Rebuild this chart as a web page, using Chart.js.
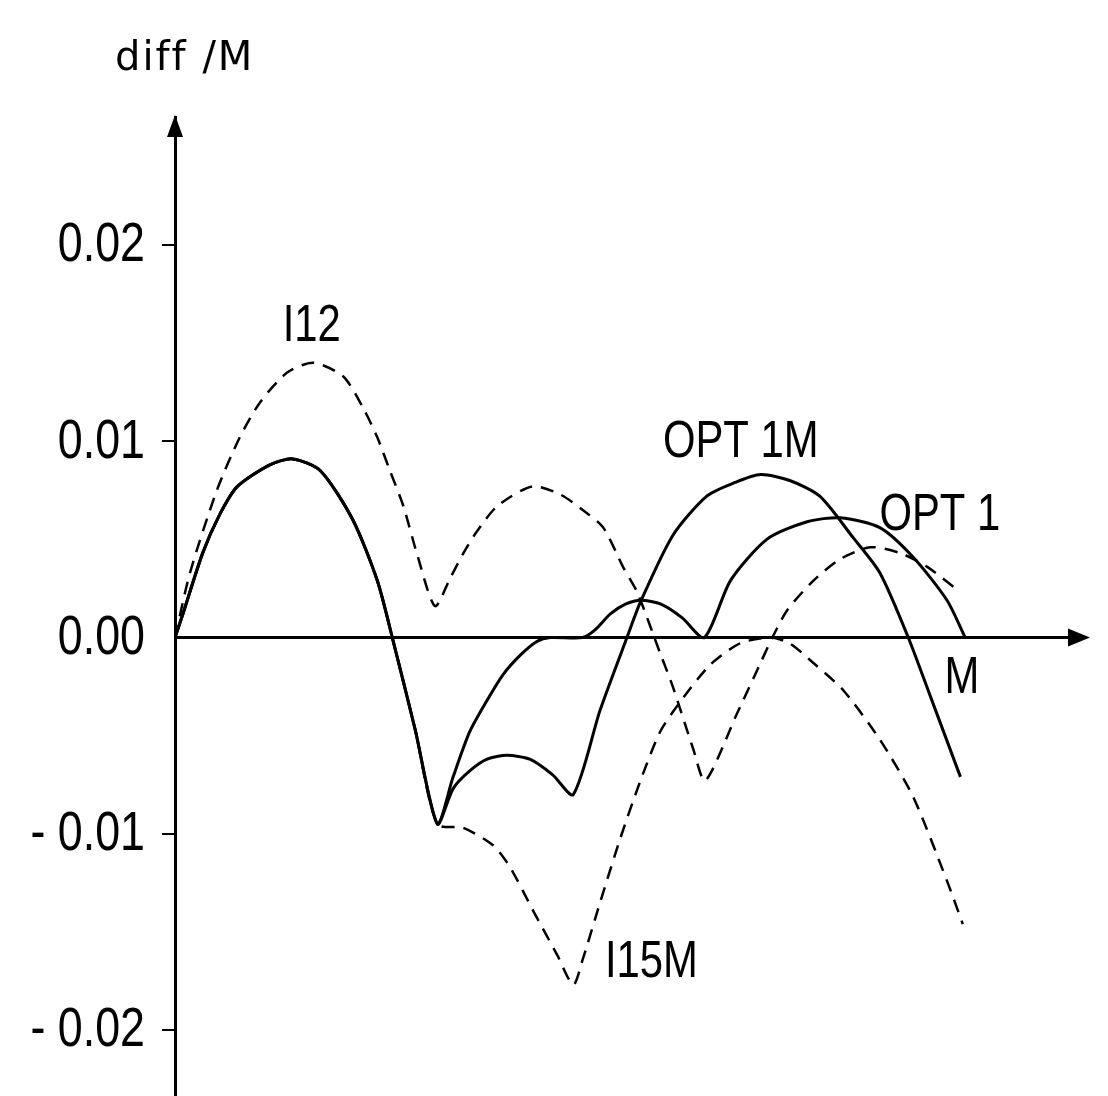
<!DOCTYPE html>
<html>
<head>
<meta charset="utf-8">
<script src="https://cdn.jsdelivr.net/npm/chart.js@4.4.1/dist/chart.umd.min.js"></script>
<style>
  html, body { margin: 0; padding: 0; background: #fff; }
  #wrap { width: 1108px; height: 1096px; }
</style>
</head>
<body>
<div id="wrap"><canvas id="diffChart"></canvas></div>
<script>
// x is in units of M (M = 1), y is diff/M

// common start of the curves, up to the first minimum
const sharedX = [0, 0.010, 0.035, 0.057, 0.079, 0.120, 0.149, 0.184, 0.225, 0.256, 0.275, 0.304, 0.332];
const sharedY = [0, 0.0012, 0.0043, 0.0063, 0.0077, 0.0088, 0.0091, 0.0085, 0.0060, 0.0029, 0, -0.0047, -0.0095];

const opt1mX = [0.352, 0.373, 0.395, 0.420, 0.449, 0.478, 0.504, 0.538, 0.572, 0.589, 0.630, 0.673, 0.709, 0.741, 0.778, 0.816, 0.858, 0.892, 0.928, 0.956, 0.994];
const opt1mY = [-0.0077, -0.0068, -0.0062, -0.0060, -0.0062, -0.0070, -0.0080, -0.0037, 0, 0.0018, 0.0052, 0.0072, 0.0079, 0.0083, 0.0080, 0.0072, 0.0051, 0.0033, 0, -0.0030, -0.0071];

const opt1X = [0.352, 0.373, 0.395, 0.415, 0.437, 0.458, 0.475, 0.516, 0.532, 0.551, 0.570, 0.590, 0.615, 0.642, 0.670, 0.703, 0.749, 0.800, 0.842, 0.892, 0.934, 0.977, 1.0];
const opt1Y = [-0.0071, -0.0048, -0.0032, -0.0019, -0.0009, -0.0002, 0, 0, 0.0004, 0.0012, 0.0017, 0.0019, 0.0017, 0.0010, 0, 0.0029, 0.0050, 0.0059, 0.0061, 0.0056, 0.0041, 0.0019, 0];

const i12X = [0, 0.019, 0.053, 0.082, 0.108, 0.142, 0.175, 0.213, 0.238, 0.256, 0.272, 0.289, 0.306, 0.329, 0.348, 0.365, 0.382, 0.408, 0.452, 0.487, 0.516, 0.542, 0.567, 0.585, 0.614, 0.630, 0.656, 0.671, 0.711, 0.741, 0.756, 0.775, 0.808, 0.842, 0.880, 0.918, 0.952, 0.991];
const i12Y = [0, 0.0033, 0.0075, 0.0102, 0.0120, 0.0135, 0.0140, 0.0133, 0.0117, 0.0102, 0.0085, 0.0067, 0.0043, 0.0016, 0.0030, 0.0043, 0.0054, 0.0067, 0.0077, 0.0073, 0.0065, 0.0056, 0.0036, 0.0023, -0.0008, -0.0025, -0.0057, -0.0073, -0.0039, -0.0013, 0, 0.0014, 0.0029, 0.0040, 0.0046, 0.0043, 0.0036, 0.0024];

const i15mX = [0.365, 0.403, 0.424, 0.453, 0.484, 0.504, 0.516, 0.538, 0.563, 0.589, 0.614, 0.639, 0.677, 0.715, 0.753, 0.778, 0.808, 0.846, 0.892, 0.934, 0.977, 0.997];
const i15mY = [-0.0097, -0.0106, -0.0117, -0.0139, -0.0162, -0.0177, -0.0164, -0.0135, -0.0103, -0.0073, -0.0048, -0.0033, -0.0014, -0.0003, 0, -0.0003, -0.0013, -0.0027, -0.0052, -0.0081, -0.0124, -0.0146];

const yTicks = [-0.02, -0.01, 0, 0.01, 0.02];

function toPoints(xs, ys) {
  return xs.map((x, i) => ({ x: x, y: ys[i] }));
}

function tickText(v) {
  return (v < 0 ? '- ' : '') + Math.abs(v).toFixed(2);
}

// text written on the plot, placed in data units
const curveLabels = [
  { text: 'I12', x: 0.173, y: 0.0158 },
  { text: 'OPT 1M', x: 0.716, y: 0.0099 },
  { text: 'OPT 1', x: 0.968, y: 0.0062 },
  { text: 'M', x: 0.996, y: -0.0021 },
  { text: 'I15M', x: 0.603, y: -0.0166 }
];

// draws narrow text by squeezing a normal face sideways
function narrowText(ctx, text, x, y, squeeze) {
  ctx.save();
  ctx.translate(x, y);
  ctx.scale(squeeze, 1);
  ctx.fillText(text, 0, 0);
  ctx.restore();
}

const axisPlugin = {
  id: 'axisArrows',
  afterDatasetsDraw(chart) {
    const ctx = chart.ctx;
    const area = chart.chartArea;
    const xs = chart.scales.x;
    const ys = chart.scales.y;
    const x0 = xs.getPixelForValue(0);
    const y0 = ys.getPixelForValue(0);
    ctx.save();
    ctx.strokeStyle = '#000';
    ctx.fillStyle = '#000';
    ctx.lineWidth = 3;

    // horizontal axis with arrow
    ctx.beginPath();
    ctx.moveTo(x0, y0);
    ctx.lineTo(area.right - 12, y0);
    ctx.stroke();
    ctx.beginPath();
    ctx.moveTo(area.right, y0);
    ctx.lineTo(area.right - 22, y0 - 9);
    ctx.lineTo(area.right - 22, y0 + 9);
    ctx.closePath();
    ctx.fill();

    // arrow on top of the vertical axis
    ctx.beginPath();
    ctx.moveTo(x0, area.top - 2);
    ctx.lineTo(x0 - 8, area.top + 20);
    ctx.lineTo(x0 + 8, area.top + 20);
    ctx.closePath();
    ctx.fill();

    // y tick labels
    ctx.font = '56px "Liberation Sans", sans-serif';
    ctx.textAlign = 'right';
    ctx.textBaseline = 'middle';
    ys.ticks.forEach(t => {
      narrowText(ctx, tickText(t.value), x0 - 30, ys.getPixelForValue(t.value) + 1, 0.8);
    });

    // curve names
    ctx.font = '51px "Liberation Sans", sans-serif';
    ctx.textAlign = 'center';
    curveLabels.forEach(l => {
      narrowText(ctx, l.text, xs.getPixelForValue(l.x), ys.getPixelForValue(l.y), 0.82);
    });

    // axis title
    ctx.font = '40px "DejaVu Sans", sans-serif';
    ctx.textAlign = 'left';
    ctx.letterSpacing = '2px';
    ctx.fillText('diff /M', 115, 60);
    ctx.restore();
  }
};

const solidStyle = { borderColor: '#000', borderWidth: 3, pointRadius: 0, showLine: true, tension: 0.25, fill: false };
const dashStyle = { borderColor: '#000', borderWidth: 2.5, borderDash: [13, 9], pointRadius: 0, showLine: true, tension: 0.25, fill: false };

const ctx = document.getElementById('diffChart').getContext('2d');
new Chart(ctx, {
  type: 'scatter',
  data: {
    datasets: [
      Object.assign({ label: 'OPT 1M', data: toPoints(sharedX.concat(opt1mX), sharedY.concat(opt1mY)) }, solidStyle),
      Object.assign({ label: 'OPT 1', data: toPoints(sharedX.concat(opt1X), sharedY.concat(opt1Y)) }, solidStyle),
      Object.assign({ label: 'I12', data: toPoints(i12X, i12Y) }, dashStyle),
      Object.assign({ label: 'I15M', data: toPoints(sharedX.concat(i15mX), sharedY.concat(i15mY)) }, dashStyle)
    ]
  },
  options: {
    responsive: true,
    maintainAspectRatio: false,
    animation: false,
    layout: { padding: { top: 117, right: 18, bottom: 0, left: 0 } },
    plugins: {
      legend: { display: false },
      tooltip: { enabled: false }
    },
    scales: {
      x: {
        type: 'linear',
        min: 0,
        max: 1.158,
        display: false
      },
      y: {
        type: 'linear',
        min: -0.02336,
        max: 0.02652,
        afterBuildTicks: scale => {
          scale.ticks = yTicks.map(v => ({ value: v }));
        },
        afterFit: scale => {
          scale.width = 175;
          scale.paddingTop = 0;
          scale.paddingBottom = 0;
        },
        border: { display: true, color: '#000', width: 3 },
        grid: {
          drawOnChartArea: false,
          drawTicks: true,
          tickLength: 13,
          lineWidth: 2,
          color: c => (c.tick && c.tick.value === 0 ? 'rgba(0,0,0,0)' : '#000')
        },
        ticks: { display: false }
      }
    }
  },
  plugins: [axisPlugin]
});
</script>
</body>
</html>
